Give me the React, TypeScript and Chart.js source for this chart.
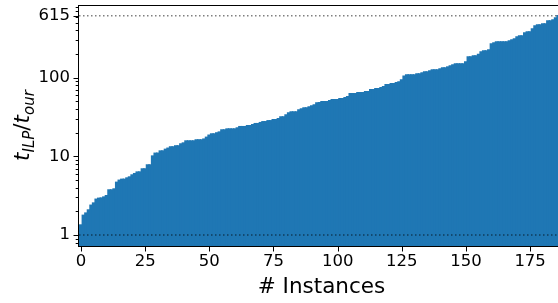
import React, { useEffect, useRef } from "react";
import { Chart, registerables } from "chart.js";

Chart.register(...registerables);

// t_ILP / t_our ratio per instance (sorted ascending)
const instanceRatios: number[] = [
  1.34, 1.78, 1.9, 2.08, 2.39, 2.55, 2.85, 2.93, 2.95, 3.04,
  3.16, 3.74, 3.74, 3.85, 4.68, 4.97, 5.11, 5.11, 5.31, 5.47,
  5.8, 6.03, 6.32, 6.32, 6.92, 6.92, 7.78, 7.78, 10.1, 10.96,
  10.96, 11.7, 11.7, 12.3, 12.7, 13.2, 13.2, 13.6, 13.6, 14.4,
  14.8, 15.7, 15.7, 15.7, 15.7, 16.2, 16.2, 16.2, 16.6, 17.5,
  18.6, 19.3, 19.3, 19.9, 20.4, 21.7, 21.7, 22.3, 22.3, 22.3,
  22.3, 23.0, 23.9, 23.9, 23.9, 24.6, 24.6, 25.3, 26.1, 26.1,
  26.9, 27.6, 27.6, 28.4, 28.4, 29.3, 29.3, 30.2, 31.7, 31.7,
  33.6, 35.7, 36.7, 36.7, 36.7, 38.9, 40.1, 41.3, 41.3, 42.5,
  43.8, 45.1, 47.8, 48.2, 49.6, 49.6, 49.6, 51.1, 52.6, 52.6,
  52.6, 54.2, 54.2, 55.8, 57.5, 62.8, 62.8, 62.8, 64.6, 64.6,
  64.6, 66.5, 66.5, 70.6, 70.6, 72.7, 72.7, 74.8, 77.1, 81.7,
  81.7, 84.1, 84.1, 86.7, 88.5, 93.7, 105, 108.6, 108.6, 108.6,
  108.6, 111.8, 111.8, 115, 118.5, 118.5, 122, 125.7, 125.7, 125.7,
  129.4, 133.4, 133.4, 137.2, 141.3, 145.5, 149.9, 149.9, 149.9, 149.9,
  158.9, 184, 184, 189.4, 189.4, 198, 213, 219, 219, 226,
  269, 277, 285, 285, 285, 285, 285, 294, 303, 312,
  330, 340, 340, 372, 383, 383, 418, 456, 470, 470,
  483, 483, 528, 528, 544, 576, 615,
];

const xTickValues: number[] = [0, 25, 50, 75, 100, 125, 150, 175];
const yMajorTicks: number[] = [1, 10, 100, 615];
const yMinorTicks: number[] = [
  0.8, 0.9, 2, 3, 4, 5, 6, 7, 8, 9,
  20, 30, 40, 50, 60, 70, 80, 90,
  200, 300, 400, 500, 600, 700, 800,
];
const referenceLines: number[] = [1, 615];

const X_MIN = -0.78;
const X_MAX = 188.2;
const Y_MIN = 0.7245;
const Y_MAX = 843.8;

const FONT = '"DejaVu Sans", "Liberation Sans", sans-serif';

const decorPlugin = {
  id: "decor",
  afterDatasetsDraw(chart: any) {
    const { ctx, chartArea, scales } = chart;
    const { left, right, top, bottom } = chartArea;
    const x = scales.x;
    const y = scales.y;
    ctx.save();
    // dotted reference lines
    ctx.setLineDash([1.5, 2.5]);
    ctx.lineWidth = 1.5;
    ctx.strokeStyle = "rgba(0,0,0,0.5)";
    for (const v of referenceLines) {
      const py = y.getPixelForValue(v);
      ctx.beginPath();
      ctx.moveTo(left, py);
      ctx.lineTo(right, py);
      ctx.stroke();
    }
    ctx.setLineDash([]);
    // spines
    ctx.strokeStyle = "#000";
    ctx.lineWidth = 1;
    ctx.beginPath();
    ctx.moveTo(left - 0.5, top + 0.5);
    ctx.lineTo(left - 0.5, bottom + 1);
    ctx.moveTo(left - 1, bottom + 0.5);
    ctx.lineTo(right, bottom + 0.5);
    ctx.moveTo(left - 1, top + 0.5);
    ctx.lineTo(right, top + 0.5);
    ctx.stroke();
    // y ticks
    ctx.beginPath();
    for (const v of yMajorTicks) {
      const py = Math.round(y.getPixelForValue(v)) + 0.5;
      ctx.moveTo(left - 5.5, py);
      ctx.lineTo(left - 0.5, py);
    }
    for (const v of yMinorTicks) {
      const py = Math.round(y.getPixelForValue(v)) + 0.5;
      ctx.moveTo(left - 3.3, py);
      ctx.lineTo(left - 0.5, py);
    }
    // x ticks
    for (const v of xTickValues) {
      const px = Math.round(x.getPixelForValue(v)) + 0.5;
      ctx.moveTo(px, bottom + 0.5);
      ctx.lineTo(px, bottom + 5.5);
    }
    ctx.stroke();
    ctx.restore();
  },
  afterDraw(chart: any) {
    const { ctx, chartArea } = chart;
    const { left, right, top, bottom } = chartArea;
    ctx.save();
    ctx.fillStyle = "#000";
    // x title
    ctx.font = `21.5px ${FONT}`;
    ctx.textAlign = "center";
    ctx.textBaseline = "alphabetic";
    ctx.fillText("# Instances", (left + right) / 2, 293);
    // y title: t_{ILP}/t_{our}
    const big = `italic 21.5px ${FONT}`;
    const small = `italic 15px ${FONT}`;
    const upright = `21.5px ${FONT}`;
    const parts: { t: string; f: string; dy: number }[] = [
      { t: "t", f: big, dy: 0 },
      { t: "ILP", f: small, dy: 4.5 },
      { t: "/", f: upright, dy: 0 },
      { t: "t", f: big, dy: 0 },
      { t: "our", f: small, dy: 4.5 },
    ];
    let total = 0;
    const widths = parts.map((p) => {
      ctx.font = p.f;
      const w = ctx.measureText(p.t).width;
      total += w;
      return w;
    });
    ctx.translate(29, (top + bottom) / 2);
    ctx.rotate(-Math.PI / 2);
    ctx.textAlign = "left";
    let cx = -total / 2;
    parts.forEach((p, i) => {
      ctx.font = p.f;
      ctx.fillText(p.t, cx, p.dy);
      cx += widths[i];
    });
    ctx.restore();
  },
};

export default function App() {
  const canvasRef = useRef<HTMLCanvasElement | null>(null);

  useEffect(() => {
    if (!canvasRef.current) return;
    const chart = new Chart(canvasRef.current, {
      type: "bar",
      data: {
        datasets: [
          {
            data: instanceRatios.map((v, i) => ({ x: i, y: v })),
            backgroundColor: "#1f77b4",
            borderColor: "#1f77b4",
            borderWidth: 0,
            inflateAmount: 0.7,
            barPercentage: 1,
            categoryPercentage: 1,
          },
        ],
      },
      options: {
        animation: false,
        responsive: false,
        devicePixelRatio: 1,
        layout: { padding: { top: 5, left: 0, right: 6, bottom: 0 } },
        plugins: {
          legend: { display: false },
          tooltip: { enabled: false },
          title: { display: false },
        },
        events: [],
        scales: {
          x: {
            type: "linear",
            min: X_MIN,
            max: X_MAX,
            bounds: "data",
            offset: false,
            grid: { display: true, drawOnChartArea: false, drawTicks: false },
            border: { display: false },
            afterBuildTicks: (scale: any) => {
              scale.ticks = xTickValues.map((v) => ({ value: v }));
            },
            afterFit: (scale: any) => {
              scale.height = 57;
              scale.paddingLeft = 0;
              scale.paddingRight = 0;
              scale.paddingTop = 0;
              scale.paddingBottom = 0;
            },
            ticks: {
              autoSkip: false,
              maxRotation: 0,
              minRotation: 0,
              padding: 6,
              color: "#000",
              font: { family: FONT, size: 16.5 },
              callback: (v: any) => String(v),
            },
          },
          y: {
            type: "logarithmic",
            min: Y_MIN,
            max: Y_MAX,
            bounds: "data",
            grid: { display: true, drawOnChartArea: false, drawTicks: false },
            border: { display: false },
            afterBuildTicks: (scale: any) => {
              const all = [...yMinorTicks, ...yMajorTicks].sort((a, b) => a - b);
              scale.ticks = all.map((v) => ({ value: v, major: yMajorTicks.includes(v) }));
            },
            afterFit: (scale: any) => {
              scale.width = 79;
              scale.paddingLeft = 0;
              scale.paddingRight = 0;
              scale.paddingTop = 0;
              scale.paddingBottom = 0;
            },
            ticks: {
              autoSkip: false,
              padding: 9,
              color: "#000",
              font: { family: FONT, size: 16.5 },
              callback: (v: any) => (yMajorTicks.includes(Number(v)) ? String(v) : ""),
            },
          },
        },
      },
      plugins: [decorPlugin],
    });
    return () => chart.destroy();
  }, []);

  return (
    <div
      style={{
        position: "fixed",
        left: 0,
        top: 0,
        width: 558,
        height: 303,
        overflow: "hidden",
        background: "#fff",
      }}
    >
      <canvas
        ref={canvasRef}
        width={570}
        height={303}
        style={{ display: "block", width: 570, height: 303 }}
      />
    </div>
  );
}
